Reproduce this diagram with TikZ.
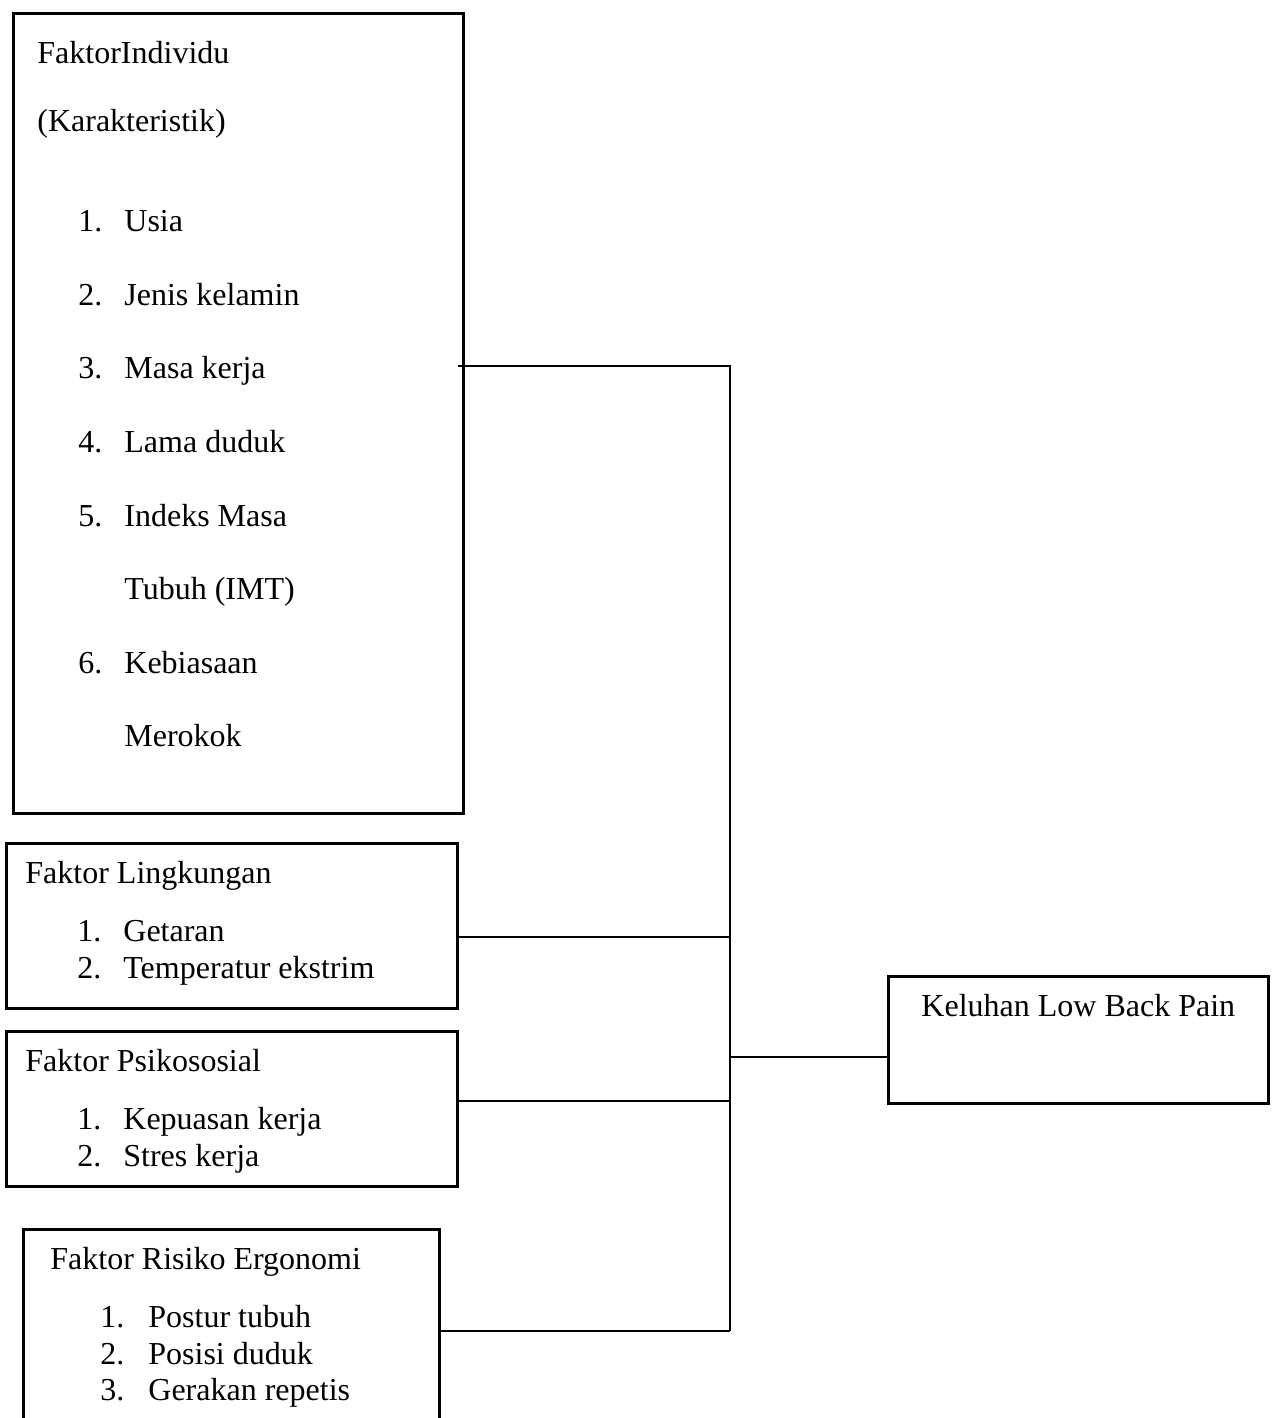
\documentclass[tikz,border=0pt]{standalone}
\usepackage{fontspec}
\setmainfont{Liberation Serif}
\usetikzlibrary{positioning,calc}
\tikzset{
  box/.style={draw,line width=1.3pt,anchor=north west,inner sep=0pt},
  txt/.style={anchor=base west,inner sep=0pt,font=\fontsize{16}{18.5}\selectfont},
  link/.style={line width=1.3pt}
}
\begin{document}
\begin{tikzpicture}[x=0.5pt,y=-0.5pt]
\clip (0,0) rectangle (1274,1418);
% kotak faktor
\node[box,minimum width=225pt,minimum height=400pt] (individu) at (12,12) {};
\node[box,minimum width=225.5pt,minimum height=82.5pt] (lingkungan) at (5,842) {};
\node[box,minimum width=225.5pt,minimum height=77.5pt] (psikososial) at (5,1030) {};
\node[box,minimum width=208pt,minimum height=110pt] (ergonomi) at (22,1228) {};
\node[box,minimum width=190pt,minimum height=63.5pt] (lbp) at (887,975) {};
% teks
\node[txt] (ind-judul) at (37,64) {FaktorIndividu};
\node[txt] (ind-sub) at (37,132) {(Karakteristik)};
\foreach \n/\t [count=\i] in {1./Usia,2./Jenis kelamin,3./Masa kerja,4./Lama duduk,5./Indeks Masa,/Tubuh (IMT),6./Kebiasaan,/Merokok}{
  \node[txt] (ind-n\i) at (78,{158+73.6*\i}) {\n};
  \node[txt] (ind-t\i) at (124,{158+73.6*\i}) {\t};
}
\node[txt] (lin-judul) at (25,883) {Faktor Lingkungan};
\foreach \n/\t [count=\i] in {1./Getaran,2./Temperatur ekstrim}{
  \node[txt] (lin-n\i) at (77,{904+37*\i}) {\n};
  \node[txt] (lin-t\i) at (123,{904+37*\i}) {\t};
}
\node[txt] (psi-judul) at (25,1071) {Faktor Psikososial};
\foreach \n/\t [count=\i] in {1./Kepuasan kerja,2./Stres kerja}{
  \node[txt] (psi-n\i) at (77,{1092+37*\i}) {\n};
  \node[txt] (psi-t\i) at (123,{1092+37*\i}) {\t};
}
\node[txt] (erg-judul) at (50,1269) {Faktor Risiko Ergonomi};
\foreach \n/\t [count=\i] in {1./Postur tubuh,2./Posisi duduk,3./Gerakan repetis}{
  \node[txt] (erg-n\i) at (100,{1291+36.5*\i}) {\n};
  \node[txt] (erg-t\i) at (148,{1291+36.5*\i}) {\t};
}
\node[txt,anchor=base] (lbp-t) at ([yshift=-20.5pt]lbp.north) {Keluhan Low Back Pain};
% garis penghubung
\coordinate (j1) at (730,366);
\coordinate (j2) at (730,937);
\coordinate (j3) at (730,1101);
\coordinate (j4) at (730,1331);
\coordinate (j5) at (730,1057);
\draw[link] ([xshift=-3.5pt]individu.east |- j1) -- (j1) -- (j4);
\draw[link] (lingkungan.east |- j2) -- (j2);
\draw[link] (psikososial.east |- j3) -- (j3);
\draw[link] (ergonomi.east |- j4) -- (j4);
\draw[link] (j5) -- (lbp.west |- j5);
\end{tikzpicture}
\end{document}
